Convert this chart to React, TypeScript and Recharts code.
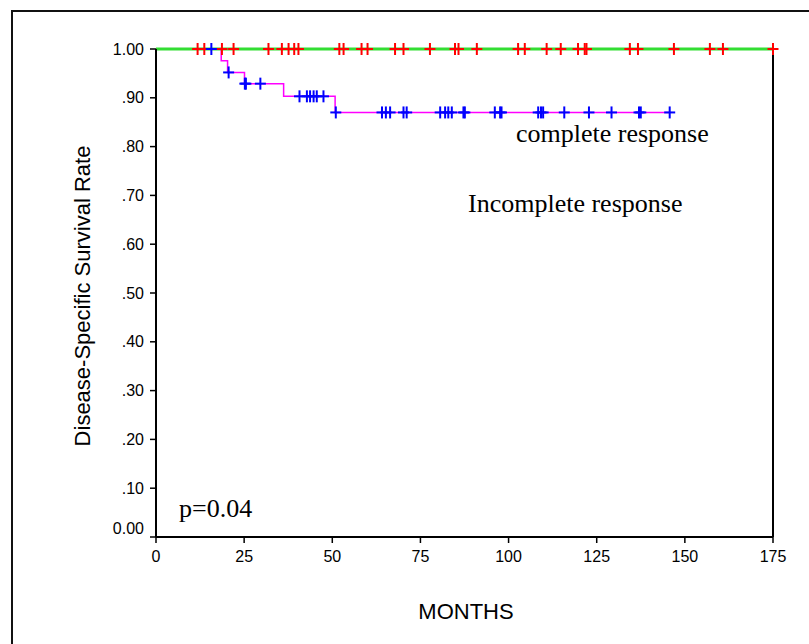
import { ComposedChart, Line, Scatter, XAxis, YAxis, ReferenceLine } from 'recharts';

// Kaplan-Meier step curves (months, survival)
const incompleteMonths = [0, 18.5, 20.3, 25.1, 36.2, 50.8, 145.7];
const incompleteSurv = [1, 0.976, 0.952, 0.929, 0.903, 0.87, 0.87];
const completeMonths = [0, 175];
const completeSurv = [1, 1];

// censored observations
const completeCensored = [
  11.8, 13.7, 18.7, 22.0, 31.9, 35.7, 37.6, 39.2, 40.4, 52.0, 53.2, 58.3, 60.0, 67.8, 70.2, 77.7, 84.8, 85.8,
  91.0, 102.7, 104.6, 110.8, 114.8, 119.7, 121.6, 122.1, 134.4, 136.7, 146.9, 157.1, 160.8, 175,
];
const incompleteCensored = [
  15.7, 20.6, 25.2, 25.5, 29.6, 40.7, 42.8, 43.7, 44.7, 45.6, 47.5, 51.0, 64.1, 65.2, 66.4, 70.2, 71.1, 80.6,
  82.0, 82.9, 83.9, 87.2, 87.6, 96.1, 97.6, 98.0, 108.4, 109.2, 109.8, 115.8, 122.8, 129.2, 137.0, 137.5, 145.7,
];

const xTicks = [0, 25, 50, 75, 100, 125, 150, 175];
const yTicks = [0, 0.1, 0.2, 0.3, 0.4, 0.5, 0.6, 0.7, 0.8, 0.9, 1];

const toPoints = (xs: number[], ys: number[]) => xs.map((x, i) => ({ x, y: ys[i] }));

function survAt(months: number[], surv: number[], t: number) {
  let s = surv[0];
  for (let i = 0; i < months.length; i++) if (months[i] <= t) s = surv[i];
  return s;
}

const incompleteCurve = toPoints(incompleteMonths, incompleteSurv);
const completeCurve = toPoints(completeMonths, completeSurv);
const completeMarks = completeCensored.map((x) => ({ x, y: survAt(completeMonths, completeSurv, x) }));
const incompleteMarks = incompleteCensored.map((x) => ({ x, y: survAt(incompleteMonths, incompleteSurv, x) }));

const SANS = '"Liberation Sans", Arial, sans-serif';
const SERIF = '"Liberation Serif", "Times New Roman", serif';

function makeCross(color: string) {
  return (props: { cx?: number; cy?: number }) => {
    const { cx = 0, cy = 0 } = props;
    return (
      <g>
        <line x1={cx - 5.5} x2={cx + 5.5} y1={cy} y2={cy} stroke={color} strokeWidth={2} />
        <line x1={cx} x2={cx} y1={cy - 6} y2={cy + 6} stroke={color} strokeWidth={2} />
      </g>
    );
  };
}

function YTick(props: { x?: number; y?: number; payload?: { value: number } }) {
  const { x = 0, y = 0, payload } = props;
  const v = payload ? payload.value : 0;
  const label = v === 0 ? '0.00' : v === 1 ? '1.00' : '.' + Math.round(v * 100).toString().padStart(2, '0');
  return (
    <text x={x} y={v === 0 ? y - 9 : y} dy="0.355em" textAnchor="end" fontFamily={SANS} fontSize={16} fill="#000">
      {label}
    </text>
  );
}

export default function App() {
  return (
    <div style={{ position: 'absolute', left: 0, top: 0, width: 809, height: 644, overflow: 'hidden', background: '#fff' }}>
      <div
        style={{
          position: 'absolute',
          left: 11,
          top: 10,
          width: 840,
          height: 700,
          border: '2px solid #111',
        }}
      />
      <div style={{ position: 'absolute', left: 0, top: 0 }}>
        <ComposedChart width={809} height={644} margin={{ top: 49, right: 36, bottom: 77, left: 96 }}>
          <XAxis
            dataKey="x"
            type="number"
            domain={[0, 175]}
            ticks={xTicks}
            height={30}
            tickSize={6}
            tickMargin={8}
            stroke="#000"
            axisLine={{ stroke: '#000', strokeWidth: 2 }}
            tickLine={{ stroke: '#000', strokeWidth: 1.5 }}
            tick={{ fill: '#000', fontFamily: SANS, fontSize: 16 }}
          />
          <YAxis
            dataKey="y"
            type="number"
            domain={[0, 1]}
            ticks={yTicks}
            width={60}
            tickSize={6}
            tickMargin={6}
            axisLine={{ stroke: '#000', strokeWidth: 2 }}
            tickLine={{ stroke: '#000', strokeWidth: 1.5 }}
            tick={<YTick />}
          />
          <ReferenceLine x={175} stroke="#000" strokeWidth={2} />
          <Line
            data={incompleteCurve}
            dataKey="y"
            type="stepAfter"
            stroke="#ff00ff"
            strokeWidth={1.5}
            dot={false}
            isAnimationActive={false}
          />
          <Line
            data={completeCurve}
            dataKey="y"
            type="linear"
            stroke="#33dd33"
            strokeWidth={3}
            dot={false}
            isAnimationActive={false}
          />
          <Scatter data={completeMarks} dataKey="y" shape={makeCross('#ff0000')} isAnimationActive={false} />
          <Scatter data={incompleteMarks} dataKey="y" shape={makeCross('#0000ff')} isAnimationActive={false} />
        </ComposedChart>
      </div>
      <svg width={809} height={644} style={{ position: 'absolute', left: 0, top: 0, pointerEvents: 'none' }}>
        <text x={516} y={142} fontFamily={SERIF} fontSize={26} fill="#000">
          complete response
        </text>
        <text x={468} y={212} fontFamily={SERIF} fontSize={26} fill="#000">
          Incomplete response
        </text>
        <text x={179} y={517} fontFamily={SERIF} fontSize={26} fill="#000">
          p=0.04
        </text>
        <text
          x={82}
          y={296}
          transform="rotate(-90 82 296)"
          textAnchor="middle"
          dominantBaseline="central"
          fontFamily={SANS}
          fontSize={22}
          fill="#000"
        >
          Disease-Specific Survival Rate
        </text>
        <text x={466} y={619} textAnchor="middle" fontFamily={SANS} fontSize={22} fill="#000">
          MONTHS
        </text>
      </svg>
    </div>
  );
}
